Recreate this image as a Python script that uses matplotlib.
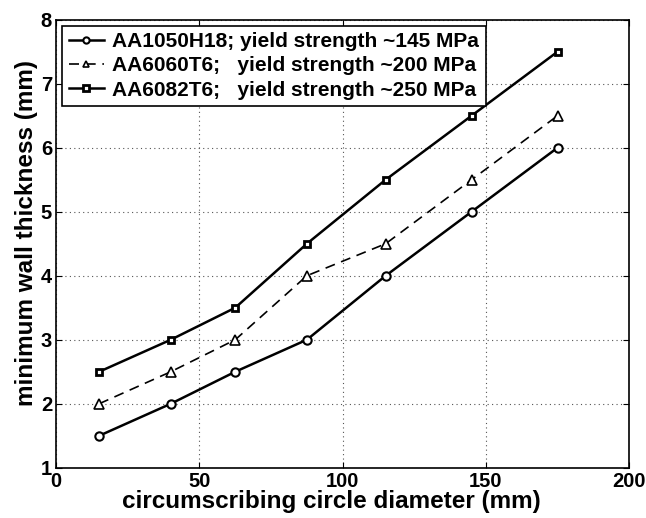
import matplotlib
matplotlib.use("Agg")
import matplotlib.pyplot as plt

plt.rcParams.update({
    "font.family": ["Liberation Sans", "DejaVu Sans"],
    "font.weight": "bold",
    "axes.labelweight": "bold",
})

# data
diameter = [15, 40, 62.5, 87.5, 115, 145, 175]
aa1050 = [1.5, 2.0, 2.5, 3.0, 4.0, 5.0, 6.0]
aa6060 = [2.0, 2.5, 3.0, 4.0, 4.5, 5.5, 6.5]
aa6082 = [2.5, 3.0, 3.5, 4.5, 5.5, 6.5, 7.5]
labels = ["AA1050H18; yield strength ~145 MPa",
          "AA6060T6;   yield strength ~200 MPa",
          "AA6082T6;   yield strength ~250 MPa"]

fig = plt.figure(figsize=(6.46, 5.18), dpi=100)
ax = fig.add_axes([0.087, 0.097, 0.887, 0.865])

ax.plot(diameter, aa1050, "-o", color="black", lw=1.8, ms=6, mfc="white",
        mew=1.5, label=labels[0])
ax.plot(diameter, aa6060, "--^", color="black", lw=1.2, ms=6.5, mfc="white",
        mew=1.2, dashes=(6, 4), label=labels[1])
ax.plot(diameter, aa6082, "-s", color="black", lw=1.8, ms=5, mfc="white",
        mew=2.0, label=labels[2])

ax.set_xlim(0, 200)
ax.set_ylim(1, 8)
ax.set_xticks([0, 50, 100, 150, 200])
ax.set_yticks(range(1, 9))
ax.grid(True, color="#555555", ls=(0, (1, 3)), lw=0.8)
ax.tick_params(direction="in", labelsize=14.5, width=0.8, length=4,
               top=True, right=True, pad=3)
for lab in ax.get_xticklabels() + ax.get_yticklabels():
    lab.set_fontweight("bold")
for s in ax.spines.values():
    s.set_linewidth(1.2)

ax.set_xlabel("circumscribing circle diameter (mm)", fontsize=17.5,
              labelpad=-1, x=0.48)
ax.set_ylabel("minimum wall thickness (mm)", fontsize=17.5, labelpad=2,
              y=0.525)

leg = ax.legend(loc="upper left", fontsize=15, handlelength=1.7,
                handletextpad=0.4, borderpad=0.3, labelspacing=0.25,
                borderaxespad=0.3, fancybox=False, framealpha=1,
                edgecolor="black", markerscale=0.75)
leg.get_frame().set_linewidth(1.2)
for t in leg.get_texts():
    t.set_fontweight("bold")

fig.savefig("out.png", dpi=100)
